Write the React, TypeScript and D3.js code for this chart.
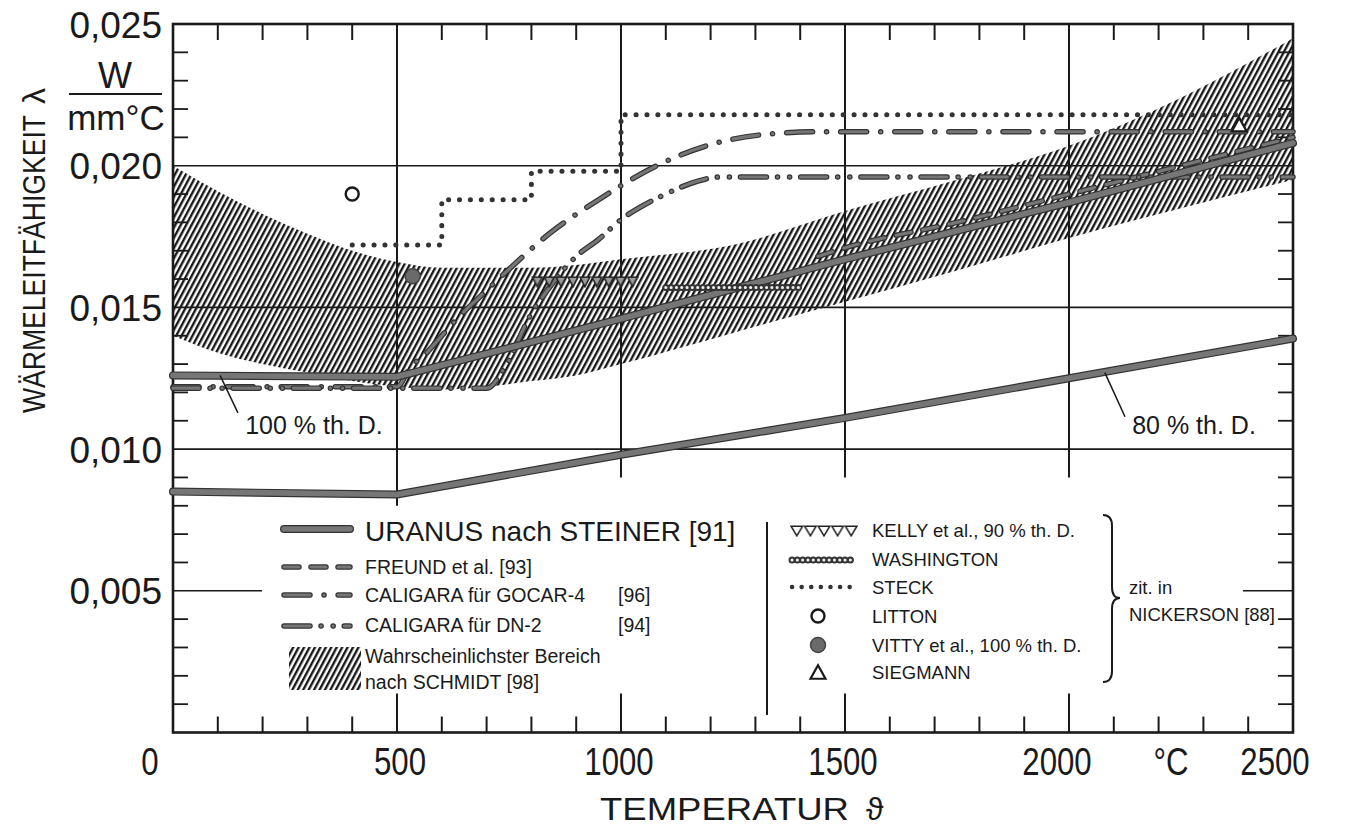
import * as d3 from "d3";

// --- data ------------------------------------------------------------------
const yTickLabels = ["0,005", "0,010", "0,015", "0,020", "0,025"];
const yTickValues = [0.005, 0.01, 0.015, 0.02, 0.025];
const xTickLabels = ["0", "500", "1000", "1500", "2000", "2500"];
const xTickValues = [0, 500, 1000, 1500, 2000, 2500];

// URANUS nach STEINER, 100 % and 80 % th. D.
const uranusT = [0, 500, 1000, 1500, 2000, 2500];
const uranus100 = [0.0126, 0.01255, 0.0146, 0.0167, 0.0187, 0.0208];
const uranus80 = [0.0085, 0.0084, 0.0098, 0.0111, 0.0125, 0.0139];

// Wahrscheinlichster Bereich nach SCHMIDT
const bandT = [0, 100, 200, 300, 400, 500, 600, 700, 800, 900, 1000, 1250, 1500, 1750, 2000, 2250, 2500];
const bandUpper = [0.02, 0.0191, 0.0183, 0.0176, 0.017, 0.0166, 0.0164, 0.0164, 0.0164, 0.0165, 0.0167, 0.0172, 0.0184, 0.0195, 0.0207, 0.0224, 0.0245];
const bandLower = [0.014, 0.0134, 0.013, 0.0127, 0.0124, 0.0122, 0.0121, 0.0122, 0.0124, 0.0126, 0.013, 0.0141, 0.0152, 0.0163, 0.01745, 0.0185, 0.0195];

// FREUND et al.
const freundT = [1440, 1500, 1750, 2000, 2250, 2500];
const freund = [0.0168, 0.0171, 0.018, 0.019, 0.02, 0.021];

// CALIGARA für GOCAR-4
const gocarT = [0, 500, 530, 560, 600, 640, 680, 740, 840, 950, 1080, 1190, 1320, 1450, 2500];
const gocar = [0.0122, 0.0122, 0.0129, 0.0133, 0.014, 0.0147, 0.0153, 0.0162, 0.0176, 0.0188, 0.02, 0.0207, 0.0211, 0.0212, 0.0212];

// CALIGARA für DN-2
const dn2T = [0, 700, 745, 797, 840, 900, 950, 1000, 1050, 1100, 1170, 1220, 2500];
const dn2 = [0.01215, 0.01215, 0.013, 0.0147, 0.0157, 0.0168, 0.0174, 0.0181, 0.0186, 0.019, 0.01945, 0.0196, 0.0196];

// STECK (steps)
const steckT = [400, 600, 800, 1000, 2500];
const steck = [0.0172, 0.0188, 0.0198, 0.0218, 0.0218];

// KELLY, WASHINGTON (ranges)
const kellyT = [800, 1040];
const kelly = 0.0159;
const washT = [1100, 1400];
const wash = 0.0157;

// single points
const litton = [400, 0.019];
const vitty = [535, 0.0161];
const siegmann = [2380, 0.02145];

const INK = "#1a1a1a";
const GRAY = "#767676";
const FONT = "'Liberation Sans', Arial, sans-serif";

const x = d3.scaleLinear().domain([0, 2500]).range([173, 1293]);
const y = d3.scaleLinear().domain([0, 0.025]).range([732.5, 24]);

const zip = (t: number[], v: number[]) => t.map((d, i) => [d, v[i]] as [number, number]);

const straight = d3.line<[number, number]>().x((d) => x(d[0])).y((d) => y(d[1]));
const smooth = d3
  .line<[number, number]>()
  .x((d) => x(d[0]))
  .y((d) => y(d[1]))
  .curve(d3.curveMonotoneX);
const steps = d3
  .line<[number, number]>()
  .x((d) => x(d[0]))
  .y((d) => y(d[1]))
  .curve(d3.curveStepAfter);
const band = d3
  .area<number>()
  .x((d) => x(d))
  .y0((_, i) => y(bandLower[i]))
  .y1((_, i) => y(bandUpper[i]))
  .curve(d3.curveMonotoneX);

const DASH_FREUND = "15 12";
const DASH_GOCAR = "26 14 0.1 14";
const DASH_DN2 = "26 11 0.1 12 0.1 11";

function Styled({ d, dash, w = 6 }: { d: string; dash?: string; w?: number }) {
  return (
    <g fill="none" strokeLinecap="round" strokeLinejoin="round">
      <path d={d} stroke="#333" strokeWidth={w} strokeDasharray={dash} />
      <path d={d} stroke={GRAY} strokeWidth={w - 2.4} strokeDasharray={dash} />
    </g>
  );
}

export default function App() {
  const minorX = d3.range(100, 2500, 100).filter((t) => t % 500 !== 0);
  const minorY = d3.range(1, 25).map((k) => k / 1000).filter((v) => Math.round(v * 1000) % 5 !== 0);
  const gridX = [500, 1000, 1500, 2000];
  const gridY = [0.01, 0.015, 0.02];

  const tri = (cx: number, cy: number, s: number, down: boolean) => {
    const h = s * 0.9;
    return down
      ? `M${cx - s / 2},${cy - h / 2}L${cx + s / 2},${cy - h / 2}L${cx},${cy + h / 2}Z`
      : `M${cx - s / 2},${cy + h / 2}L${cx + s / 2},${cy + h / 2}L${cx},${cy - h / 2}Z`;
  };

  const legTextX = 365;
  const rightTextX = 872;

  return (
    <div style={{ position: "absolute", left: 0, top: 0 }}>
      <svg width={1345} height={830} style={{ display: "block", background: "#fff" }} fontFamily={FONT}>
        <defs>
          <pattern id="hatch" patternUnits="userSpaceOnUse" width={4.8} height={10} patternTransform="rotate(28)">
            <line x1={1.2} y1={-2} x2={1.2} y2={12} stroke="#111" strokeWidth={2.3} />
          </pattern>
          <pattern id="kelly" patternUnits="userSpaceOnUse" x={x(kellyT[0])} y={y(kelly) - 6} width={11.9} height={12}>
            <path d="M1,1.2L10.9,1.2L5.95,10.8Z" fill="#9a9a9a" stroke="#222" strokeWidth={1.6} />
          </pattern>
          <pattern id="kellyLeg" patternUnits="userSpaceOnUse" x={790} y={525} width={13.6} height={12}>
            <path d="M1,1.2L12.6,1.2L6.8,10.8Z" fill="#fff" stroke="#222" strokeWidth={1.6} />
          </pattern>
        </defs>

        {/* hatched band */}
        <path d={band(bandT) ?? ""} fill="url(#hatch)" />

        {/* grid */}
        {gridY.map((v) => (
          <line key={v} x1={x(0)} x2={x(2500)} y1={y(v)} y2={y(v)} stroke={INK} strokeWidth={1.6} />
        ))}
        <line x1={x(0)} x2={262} y1={y(0.005)} y2={y(0.005)} stroke={INK} strokeWidth={1.6} />
        <line x1={1243} x2={x(2500)} y1={y(0.005)} y2={y(0.005)} stroke={INK} strokeWidth={1.6} />
        {gridX.map((t) => (
          <line key={t} x1={x(t)} x2={x(t)} y1={y(0.025)} y2={y(t === 500 ? 0.008 : 0.009)} stroke={INK} strokeWidth={2} />
        ))}

        {/* ticks */}
        {minorX.map((t) => (
          <g key={t} stroke={INK} strokeWidth={2}>
            <line x1={x(t)} x2={x(t)} y1={y(0.025)} y2={y(0.025) + 16} />
            <line x1={x(t)} x2={x(t)} y1={y(0)} y2={y(0) - 16} />
          </g>
        ))}
        {gridX.map((t) => (
          <line key={t} x1={x(t)} x2={x(t)} y1={y(0)} y2={y(0) - 39} stroke={INK} strokeWidth={2} />
        ))}
        {minorY.map((v) => (
          <g key={v} stroke={INK} strokeWidth={1.8}>
            <line x1={x(0)} x2={x(0) + 15} y1={y(v)} y2={y(v)} />
            <line x1={x(2500)} x2={x(2500) - 15} y1={y(v)} y2={y(v)} />
          </g>
        ))}

        {/* frame */}
        <rect x={x(0)} y={y(0.025)} width={x(2500) - x(0)} height={y(0) - y(0.025)} fill="none" stroke={INK} strokeWidth={2.6} />

        {/* curves */}
        <Styled d={straight(zip(uranusT, uranus80)) ?? ""} w={8} />
        <Styled d={smooth(zip(freundT, freund)) ?? ""} dash={DASH_FREUND} w={5.5} />
        <Styled d={smooth(zip(gocarT, gocar)) ?? ""} dash={DASH_GOCAR} w={5.5} />
        <Styled d={smooth(zip(dn2T, dn2)) ?? ""} dash={DASH_DN2} w={5.5} />
        <Styled d={straight(zip(uranusT, uranus100)) ?? ""} w={8} />

        <path
          d={steps(zip(steckT, steck)) ?? ""}
          fill="none"
          stroke="#333"
          strokeWidth={5}
          strokeLinecap="round"
          strokeDasharray="0.1 10.8"
        />

        {/* WASHINGTON chain */}
        <g fill="none" strokeLinecap="round">
          <path d={straight(washT.map((t) => [t, wash] as [number, number])) ?? ""} stroke="#333" strokeWidth={7} strokeDasharray="0.1 5.2" />
          <path d={straight(washT.map((t) => [t, wash] as [number, number])) ?? ""} stroke="#eee" strokeWidth={3} strokeDasharray="0.1 5.2" />
        </g>

        {/* KELLY triangles */}
        <rect x={x(kellyT[0])} y={y(kelly) - 6} width={x(kellyT[1]) - x(kellyT[0])} height={12} fill="url(#kelly)" />

        {/* points */}
        <circle cx={x(litton[0])} cy={y(litton[1])} r={6.5} fill="#fff" stroke={INK} strokeWidth={2.4} />
        <circle cx={x(vitty[0])} cy={y(vitty[1])} r={7.5} fill="#6a6a6a" stroke="#444" strokeWidth={1.5} />
        <path d={tri(x(siegmann[0]), y(siegmann[1]), 15, false)} fill="#fff" stroke={INK} strokeWidth={2.2} />

        {/* curve labels */}
        <line x1={x(105)} y1={y(0.0126)} x2={x(145)} y2={y(0.01128)} stroke={INK} strokeWidth={1.5} />
        <text x={x(161)} y={y(0.01054)} fontSize={25} fill={INK}>100 % th. D.</text>
        <line x1={x(2080)} y1={y(0.0127)} x2={x(2125)} y2={y(0.01114)} stroke={INK} strokeWidth={1.5} />
        <text x={x(2141)} y={y(0.01054)} fontSize={25} fill={INK}>80 % th. D.</text>

        {/* y axis labels */}
        {yTickLabels.map((s, i) => (
          <text key={s} x={162} y={y(yTickValues[i]) + 13.5} fontSize={37} textAnchor="end" fill={INK}>
            {s}
          </text>
        ))}
        <text x={115} y={88} fontSize={36} textAnchor="middle" fill={INK}>W</text>
        <line x1={69} x2={162} y1={94} y2={94} stroke={INK} strokeWidth={2} />
        <text x={116} y={130} fontSize={35} textAnchor="middle" fill={INK}>mm°C</text>
        <text transform="translate(45,413) rotate(-90)" fontSize={32} textLength={298} lengthAdjust="spacingAndGlyphs" fill={INK}>
          WÄRMELEITFÄHIGKEIT
        </text>
        <text transform="translate(45,104) rotate(-90)" fontSize={32} fill={INK}>λ</text>

        {/* x axis labels */}
        {xTickLabels.map((s, i) => {
          const off = [-23, 3, -2, -2, -12, -18][i];
          return (
            <text
              key={s}
              transform={`translate(${x(xTickValues[i]) + off},775) scale(0.8,1)`}
              fontSize={39}
              textAnchor="middle"
              fill={INK}
            >
              {s}
            </text>
          );
        })}
        <text transform="translate(1171,775) scale(0.8,1)" fontSize={39} textAnchor="middle" fill={INK}>°C</text>
        <text x={600} y={820} fontSize={32} textLength={249} lengthAdjust="spacingAndGlyphs" fill={INK}>TEMPERATUR</text>
        <text x={866} y={820} fontSize={32} fill={INK}>ϑ</text>

        {/* left legend */}
        <Styled d="M284,529L350,529" w={8} />
        <text x={legTextX} y={541} fontSize={28} fill={INK}>URANUS nach STEINER [91]</text>
        <Styled d="M284,567L350,567" dash={DASH_FREUND} w={5.5} />
        <text x={legTextX} y={574} fontSize={19.5} fill={INK}>FREUND et al. [93]</text>
        <Styled d="M284,595L350,595" dash={DASH_GOCAR} w={5.5} />
        <text x={legTextX} y={602} fontSize={19.5} fill={INK}>CALIGARA für GOCAR-4</text>
        <text x={618} y={602} fontSize={19.5} fill={INK}>[96]</text>
        <Styled d="M284,626L350,626" dash={DASH_DN2} w={5.5} />
        <text x={legTextX} y={632} fontSize={19.5} fill={INK}>CALIGARA für DN-2</text>
        <text x={618} y={632} fontSize={19.5} fill={INK}>[94]</text>
        <rect x={289} y={647} width={72} height={43} fill="url(#hatch)" />
        <text x={legTextX} y={663} fontSize={19.5} fill={INK}>Wahrscheinlichster Bereich</text>
        <text x={legTextX} y={689} fontSize={19.5} fill={INK}>nach SCHMIDT [98]</text>

        {/* right legend */}
        <line x1={767} x2={767} y1={522} y2={715} stroke={INK} strokeWidth={2} />
        <rect x={790} y={525} width={68} height={12} fill="url(#kellyLeg)" />
        <g fill="none" strokeLinecap="round">
          <path d="M792,560L855,560" stroke="#333" strokeWidth={7} strokeDasharray="0.1 5.2" />
          <path d="M792,560L855,560" stroke="#eee" strokeWidth={3} strokeDasharray="0.1 5.2" />
        </g>
        <path d="M792,587L852,587" stroke="#333" strokeWidth={4.5} strokeLinecap="round" strokeDasharray="0.1 9.5" />
        <circle cx={818} cy={616} r={6.5} fill="#fff" stroke={INK} strokeWidth={2.4} />
        <circle cx={818} cy={645} r={7.5} fill="#6a6a6a" stroke="#444" strokeWidth={1.5} />
        <path d={tri(818, 672, 15, false)} fill="#fff" stroke={INK} strokeWidth={2.2} />
        {[
          "KELLY et al., 90 % th. D.",
          "WASHINGTON",
          "STECK",
          "LITTON",
          "VITTY et al., 100 % th. D.",
          "SIEGMANN",
        ].map((s, i) => (
          <text key={s} x={rightTextX} y={[537, 566, 594, 623, 652, 679][i]} fontSize={18.5} fill={INK}>
            {s}
          </text>
        ))}
        <path
          d="M1103,515Q1112,515 1112,526L1112,587Q1112,598 1120,598Q1112,598 1112,609L1112,671Q1112,682 1103,682"
          fill="none"
          stroke={INK}
          strokeWidth={2}
        />
        <text x={1129} y={594} fontSize={18.5} fill={INK}>zit. in</text>
        <text x={1129} y={621} fontSize={18.5} fill={INK}>NICKERSON [88]</text>
      </svg>
    </div>
  );
}
